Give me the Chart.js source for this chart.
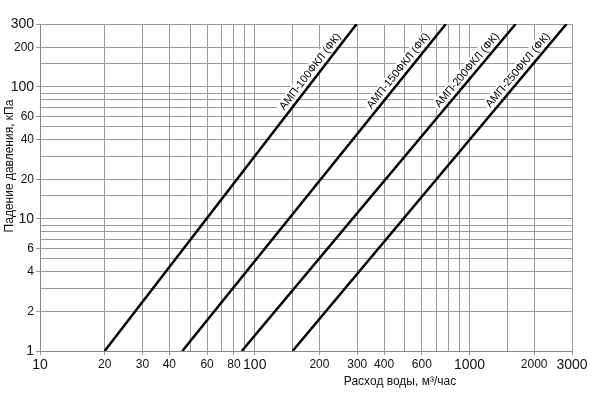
<!DOCTYPE html>
<html>
<head>
<meta charset="utf-8">
<script src="https://cdn.jsdelivr.net/npm/chart.js@4/dist/chart.umd.min.js"></script>
<style>
  html, body { margin: 0; padding: 0; background: #fff; }
  #wrap { width: 600px; height: 400px; }
</style>
</head>
<body>
<div id="wrap"><canvas id="c" width="600" height="400"></canvas></div>
<script>
// ---- Data ----
const seriesNames = ['АМП-100ФКЛ (ФК)', 'АМП-150ФКЛ (ФК)', 'АМП-200ФКЛ (ФК)', 'АМП-250ФКЛ (ФК)'];
// water flow (m3/h) where each line has 1 kPa and 300 kPa pressure drop
const flowAtLow = [20, 46, 87, 150];
const flowAtHigh = [298, 776, 1640, 2830];
const pressureLow = 1;
const pressureHigh = 300;
const xTickLabels = [10, 20, 30, 40, 60, 80, 100, 200, 300, 400, 600, 1000, 2000, 3000];
const yTickLabels = [1, 2, 4, 6, 10, 20, 40, 60, 100, 200, 300];
const xBigLabels = [10, 100, 1000, 3000];
const yBigLabels = [1, 10, 100, 300];
const xTitle = 'Расход воды, м³/час';
const yTitle = 'Падение давления, кПа';

const FONT = '"Liberation Sans", Arial, sans-serif';
const GRID = '#9a9a9a';

const datasets = seriesNames.map((name, i) => ({
  label: name,
  data: [{ x: flowAtLow[i], y: pressureLow }, { x: flowAtHigh[i], y: pressureHigh }],
  borderColor: '#000',
  borderWidth: 2.5,
  pointRadius: 0,
  fill: false,
  tension: 0
}));

function near(v, list) { return list.some(t => Math.abs(v - t) < 1e-6 * t); }

const labelPlugin = {
  id: 'lineLabels',
  afterDatasetsDraw(chart) {
    const ctx = chart.ctx;
    const ys = chart.scales.y;
    ctx.save();
    ctx.font = '11px ' + FONT;
    chart.data.datasets.forEach((ds, i) => {
      const meta = chart.getDatasetMeta(i);
      const p0 = meta.data[0], p1 = meta.data[1];
      const ang = Math.atan2(p1.y - p0.y, p1.x - p0.x);
      const ty = ys.getPixelForValue(230);
      const t = (ty - p0.y) / (p1.y - p0.y);
      const tx = p0.x + t * (p1.x - p0.x);
      ctx.save();
      ctx.translate(tx, ty);
      ctx.rotate(ang);
      const w = ctx.measureText(ds.label).width;
      ctx.fillStyle = '#fff';
      ctx.fillRect(-w - 2, -14, w + 3, 12);
      ctx.fillStyle = '#000';
      ctx.textAlign = 'right';
      ctx.textBaseline = 'bottom';
      ctx.fillText(ds.label, 0, -2);
      ctx.restore();
    });
    // axis titles
    ctx.font = '12px ' + FONT;
    ctx.fillStyle = '#111';
    ctx.textAlign = 'center';
    ctx.textBaseline = 'middle';
    ctx.fillText(xTitle, 400, 382);
    ctx.save();
    ctx.translate(10, 166);
    ctx.rotate(-Math.PI / 2);
    ctx.fillText(yTitle, 0, 0);
    ctx.restore();
    ctx.restore();
  }
};

new Chart(document.getElementById('c'), {
  type: 'line',
  data: { datasets },
  plugins: [labelPlugin],
  options: {
    responsive: false,
    animation: false,
    layout: { autoPadding: false, padding: { left: 0, top: 24, right: 28, bottom: 0 } },
    plugins: { legend: { display: false }, tooltip: { enabled: false } },
    scales: {
      x: {
        type: 'logarithmic',
        min: 10,
        max: 3000,
        afterFit(s) { s.height = 49; },
        border: { color: '#888', width: 1 },
        grid: {
          color: GRID,
          lineWidth: 1,
          tickLength: 4,
          tickColor: (c) => (c.tick && near(c.tick.value, xTickLabels)) ? GRID : 'rgba(0,0,0,0)'
        },
        ticks: {
          autoSkip: false,
          maxRotation: 0,
          minRotation: 0,
          padding: 2,
          color: '#111',
          font: (c) => ({ family: FONT, size: (c.tick && near(c.tick.value, xBigLabels)) ? 14 : 12 }),
          callback: (v) => near(v, xTickLabels) ? String(v) : ''
        }
      },
      y: {
        type: 'logarithmic',
        min: 1,
        max: 300,
        afterFit(s) { s.width = 40; },
        border: { color: '#888', width: 1 },
        grid: {
          color: GRID,
          lineWidth: 1,
          tickLength: 4,
          tickColor: (c) => (c.tick && near(c.tick.value, yTickLabels)) ? GRID : 'rgba(0,0,0,0)'
        },
        ticks: {
          autoSkip: false,
          padding: 2,
          color: '#111',
          font: (c) => ({ family: FONT, size: (c.tick && near(c.tick.value, yBigLabels)) ? 14 : 12 }),
          callback: (v) => near(v, yTickLabels) ? String(v) : ''
        }
      }
    }
  }
});
</script>
</body>
</html>
